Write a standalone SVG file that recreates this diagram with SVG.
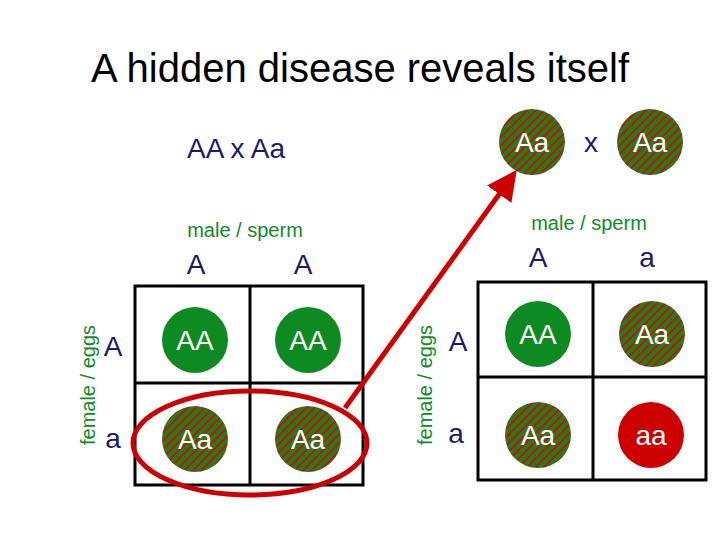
<svg xmlns="http://www.w3.org/2000/svg" width="720" height="540" viewBox="0 0 720 540">
<style>
text{font-family:"Liberation Sans",Arial,sans-serif}
.t{fill:#1a1a6e;font-size:28px;text-anchor:middle}
.g{fill:#118a2a;font-size:20px;text-anchor:middle}
.c{fill:#fff;font-size:28px;text-anchor:middle}
.grid{fill:none;stroke:#000;stroke-width:3}
.dom{fill:#0e8a22}
.het{fill:url(#hatch)}
.rec{fill:#cc0000}
</style>
<defs>
<pattern id="hatch" width="6" height="6" patternUnits="userSpaceOnUse" patternTransform="rotate(-45)">
<rect width="6" height="6" fill="#2a7a1a"/><rect width="6" height="2" fill="#b01a10"/>
</pattern>
<marker id="ah" markerWidth="6" markerHeight="6" refX="3" refY="3" orient="auto" markerUnits="strokeWidth"><path d="M0,0L6,3L0,6z" fill="#cc0000"/></marker>
</defs>
<rect width="720" height="540" fill="#fff"/>
<text x="360" y="82" text-anchor="middle" font-size="40" fill="#000">A hidden disease reveals itself</text>
<text x="236" y="158" class="t">AA   x   Aa</text>
<g id="p1"><circle cx="532" cy="142" r="33" class="het"/><text x="532" y="152" class="c">Aa</text></g>
<text x="591" y="152" class="t">x</text>
<g id="p2"><circle cx="650" cy="142" r="33" class="het"/><text x="650" y="152" class="c">Aa</text></g>
<text x="245" y="237" class="g">male / sperm</text>
<text x="589" y="230" class="g">male / sperm</text>
<text x="196" y="274" class="t">A</text><text x="303" y="274" class="t">A</text>
<text x="538" y="267" class="t">A</text><text x="647" y="267" class="t">a</text>
<text transform="translate(95,385) rotate(-90)" class="g">female / eggs</text>
<text transform="translate(432,385) rotate(-90)" class="g">female / eggs</text>
<text x="113" y="356" class="t">A</text><text x="113" y="448" class="t">a</text>
<text x="458" y="351" class="t">A</text><text x="456" y="443" class="t">a</text>
<g id="gridL"><rect x="135" y="286" width="228" height="199" class="grid"/><line x1="250" y1="286" x2="250" y2="485" class="grid"/><line x1="135" y1="383" x2="363" y2="383" class="grid"/></g>
<g id="gridR"><rect x="478" y="282" width="228" height="198" class="grid"/><line x1="593" y1="282" x2="593" y2="480" class="grid"/><line x1="478" y1="377" x2="706" y2="377" class="grid"/></g>
<g id="l1"><circle cx="195" cy="340" r="33" class="dom"/><text x="195" y="350" class="c">AA</text></g>
<g id="l2"><circle cx="308" cy="340" r="33" class="dom"/><text x="308" y="350" class="c">AA</text></g>
<g id="l3"><circle cx="195" cy="439" r="33" class="het"/><text x="195" y="449" class="c">Aa</text></g>
<g id="l4"><circle cx="308" cy="439" r="33" class="het"/><text x="308" y="449" class="c">Aa</text></g>
<g id="r1"><circle cx="538" cy="334" r="33" class="dom"/><text x="538" y="344" class="c">AA</text></g>
<g id="r2"><circle cx="652" cy="334" r="33" class="het"/><text x="652" y="344" class="c">Aa</text></g>
<g id="r3"><circle cx="538" cy="435" r="33" class="het"/><text x="538" y="445" class="c">Aa</text></g>
<g id="r4"><circle cx="651" cy="435" r="33" class="rec"/><text x="651" y="445" class="c">aa</text></g>
<g id="connectors">
<ellipse cx="250" cy="443" rx="117" ry="52" fill="none" stroke="#cc0000" stroke-width="5"/>
<line x1="345" y1="408" x2="508" y2="182" stroke="#cc0000" stroke-width="5" marker-end="url(#ah)"/>
</g>
</svg>
